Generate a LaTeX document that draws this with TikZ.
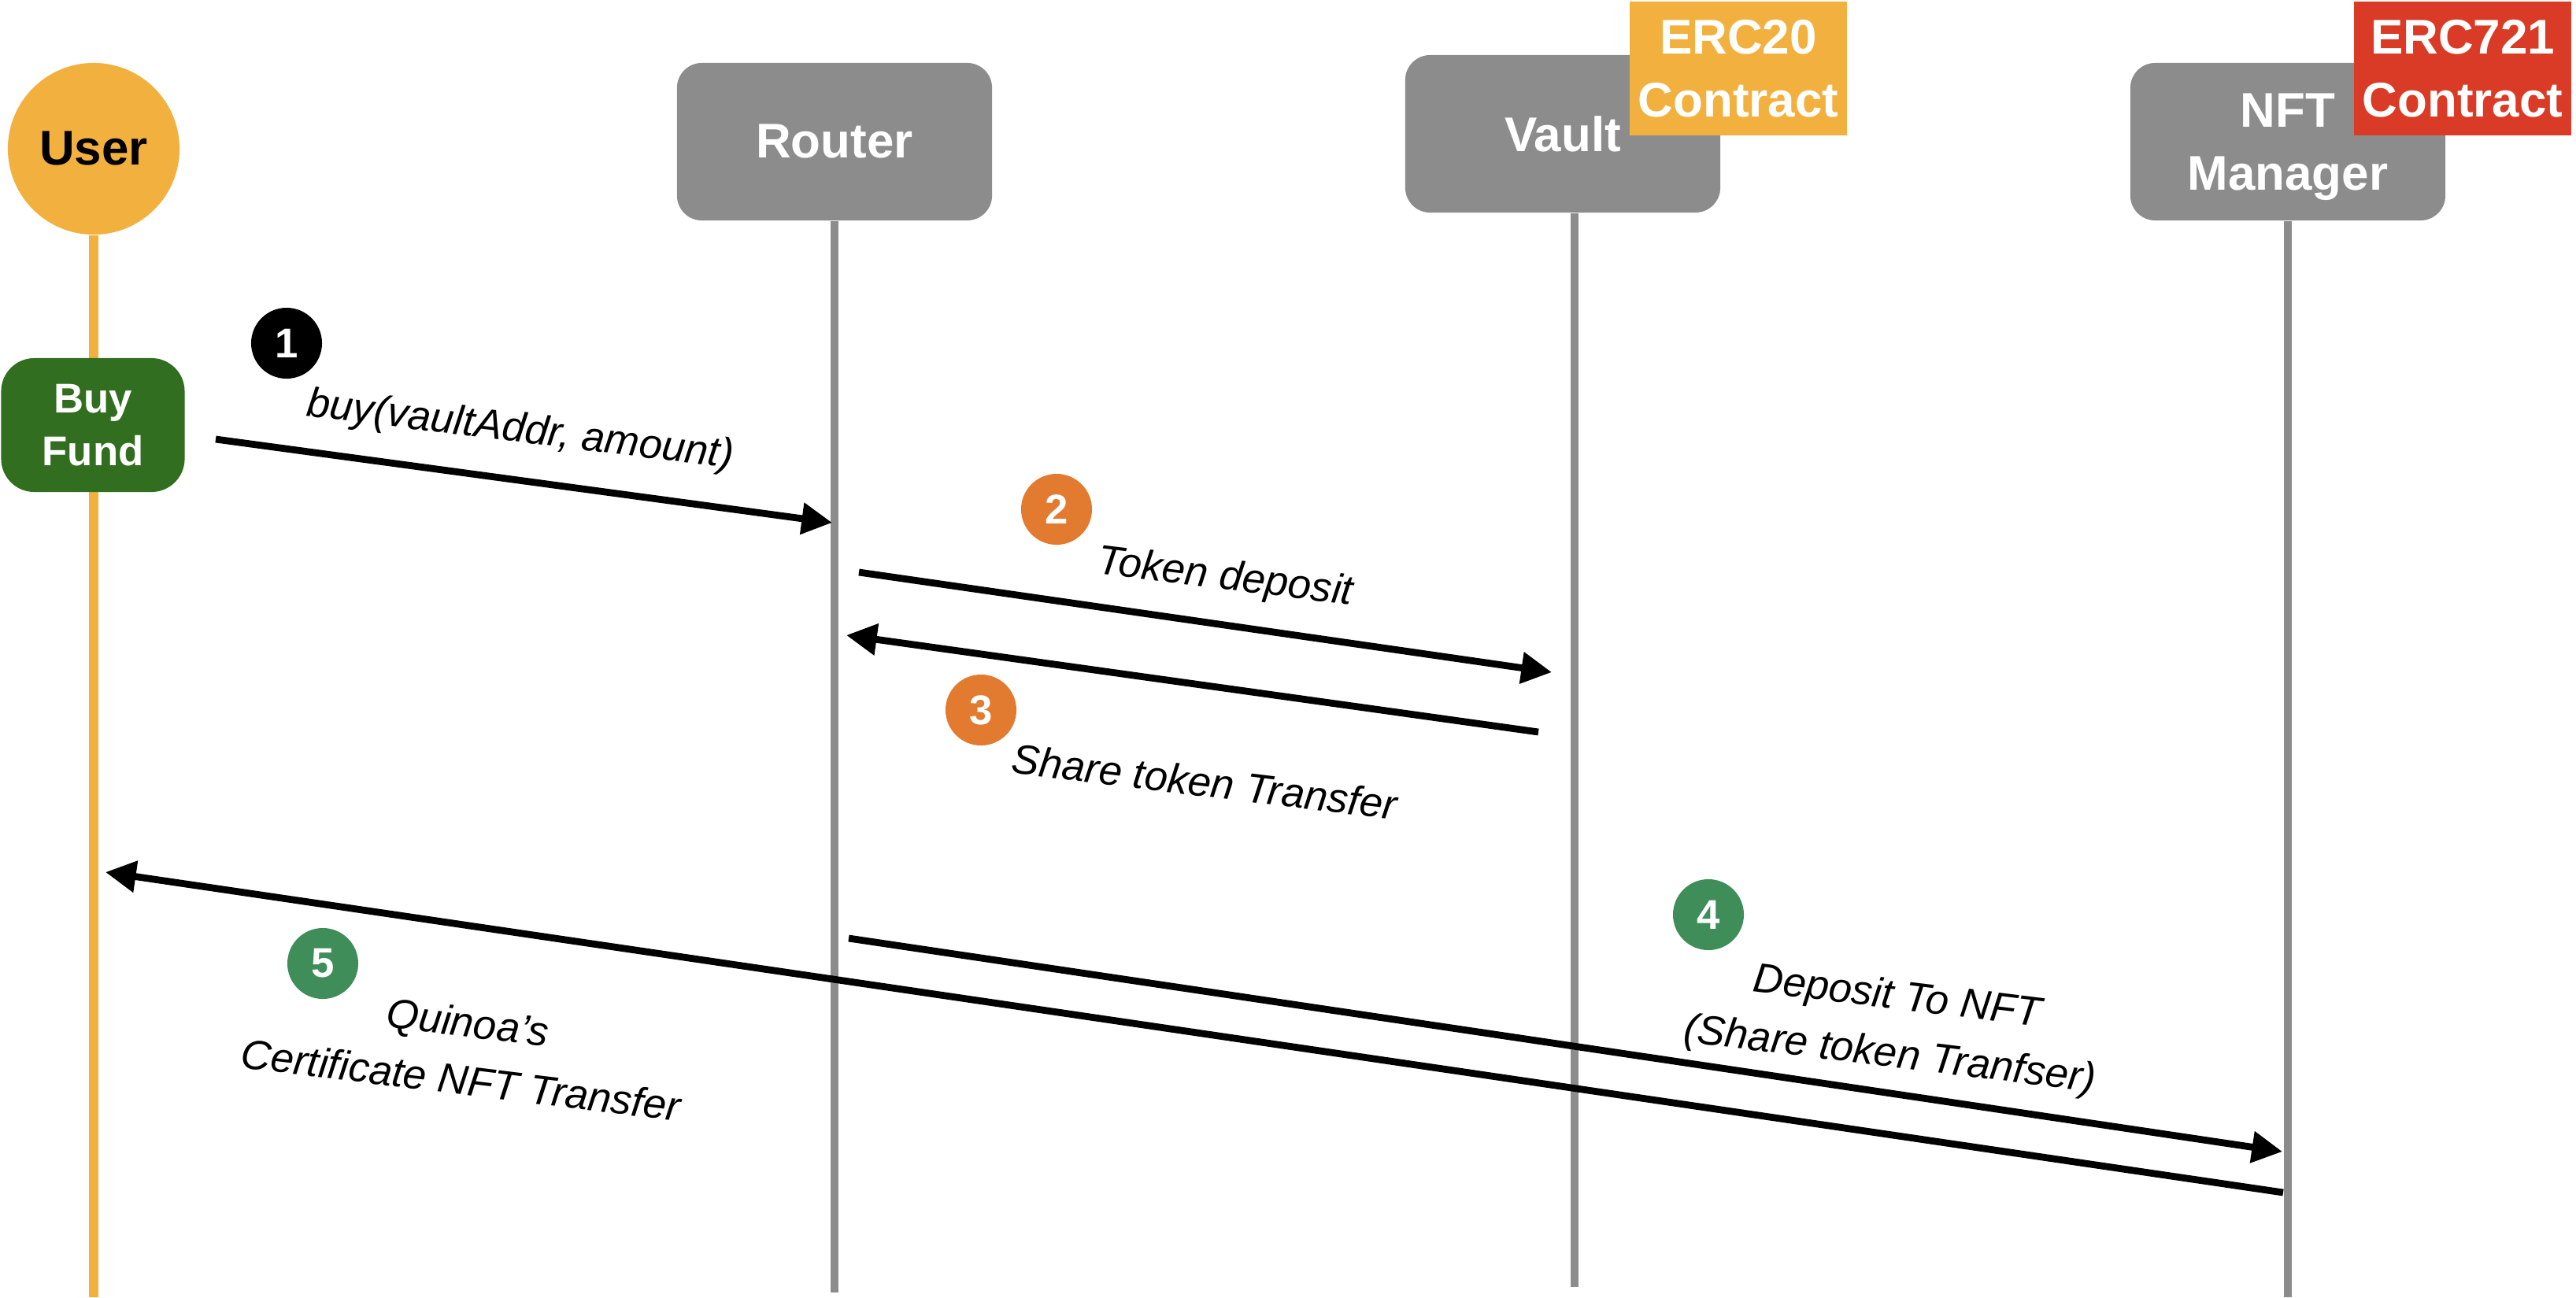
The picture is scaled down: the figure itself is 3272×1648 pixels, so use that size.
\documentclass[tikz,border=0pt]{standalone}
\usepackage{fontspec}
\setmainfont{Liberation Sans}
\usetikzlibrary{arrows.meta,positioning}
\definecolor{userorange}{HTML}{F2B13E}
\definecolor{boxgray}{HTML}{8C8C8C}
\definecolor{buygreen}{HTML}{316E1F}
\definecolor{steporange}{HTML}{E27A30}
\definecolor{stepgreen}{HTML}{3F8E5A}
\definecolor{ercred}{HTML}{D93B27}
\tikzset{
  actor/.style={fill=boxgray, rounded corners=9pt, minimum width=4cm, minimum height=2cm,
    text=white, align=center, font=\bfseries\fontsize{17.6}{22.6}\selectfont},
  tag/.style={minimum width=2.75cm, minimum height=1.69cm, inner sep=0pt,
    text=white, align=center, font=\bfseries\fontsize{17.6}{22.6}\selectfont},
  life/.style={boxgray, line width=3pt},
  stepdot/.style={circle, minimum size=0.9cm, inner sep=0pt, text=white,
    font=\bfseries\fontsize{15}{18}\selectfont},
  msg/.style={-{Triangle[length=11pt,width=11pt]}, line width=2.5pt},
  msglabel/.style={rotate=-7, align=center, font=\itshape\fontsize{15}{21}\selectfont}
}
\begin{document}
\begin{tikzpicture}[x=0.01cm, y=-0.01cm]
  \useasboundingbox (0,0) rectangle (3272,1648);

  \node[circle, fill=userorange, minimum size=2.18cm, inner sep=0pt,
    font=\bfseries\fontsize{17.6}{21}\selectfont] (user) at (119,189) {User};
  \draw[userorange, line width=3.3pt] (user.south) -- (119,1648);
  \node[fill=buygreen, rounded corners=12pt, minimum width=2.33cm, minimum height=1.7cm,
    text=white, align=center, font=\bfseries\fontsize{15}{19}\selectfont] (buy) at (118,540) {Buy\\Fund};

  \node[actor] (router) at (1060,180) {Router};
  \node[actor] (vault) at (1985,170) {Vault};
  \node[actor, text depth=0pt] (nft) at (2906,180) {NFT\\Manager};
  \node[tag, fill=userorange] (erc20) at (2208,87) {ERC20\\Contract};
  \node[tag, fill=ercred] (erc721) at (3128,87) {ERC721\\Contract};

  \draw[life] (router.south) -- (1060,1642);
  \draw[life] (vault.south) ++(15,0) -- (2000,1635);
  \draw[life] (nft.south) -- (2906,1648);

  \coordinate (m1s) at (274,558);   \coordinate (m1e) at (1057,664);
  \coordinate (m2s) at (1091,727);  \coordinate (m2e) at (1971,854);
  \coordinate (m3s) at (1954,930);  \coordinate (m3e) at (1075,807);
  \coordinate (m4s) at (1078,1192); \coordinate (m4e) at (2899,1463);
  \coordinate (m5s) at (2900,1515); \coordinate (m5e) at (134,1108);

  \draw[msg] (m1s) -- (m1e);
  \draw[msg] (m2s) -- (m2e);
  \draw[msg] (m3s) -- (m3e);
  \draw[msg] (m4s) -- (m4e);
  \draw[msg] (m5s) -- (m5e);

  \node[stepdot, fill=black] (s1) at (364,436) {1};
  \node[stepdot, fill=steporange] (s2) at (1342,647) {2};
  \node[stepdot, fill=steporange] (s3) at (1246,902) {3};
  \node[stepdot, fill=stepgreen] (s4) at (2170,1162) {4};
  \node[stepdot, fill=stepgreen] (s5) at (410,1224) {5};

  \node[msglabel] (l1) at (661,548) {buy(vaultAddr, amount)};
  \node[msglabel] (l2) at (1556,735) {Token deposit};
  \node[msglabel] (l3) at (1530,993) {Share token Transfer};
  \node[msglabel] (l4) at (2405,1305) {Deposit To NFT\\(Share token Tranfser)};
  \node[msglabel] (l5) at (590,1335) {Quinoa’s\\Certificate NFT Transfer};
\end{tikzpicture}
\end{document}
